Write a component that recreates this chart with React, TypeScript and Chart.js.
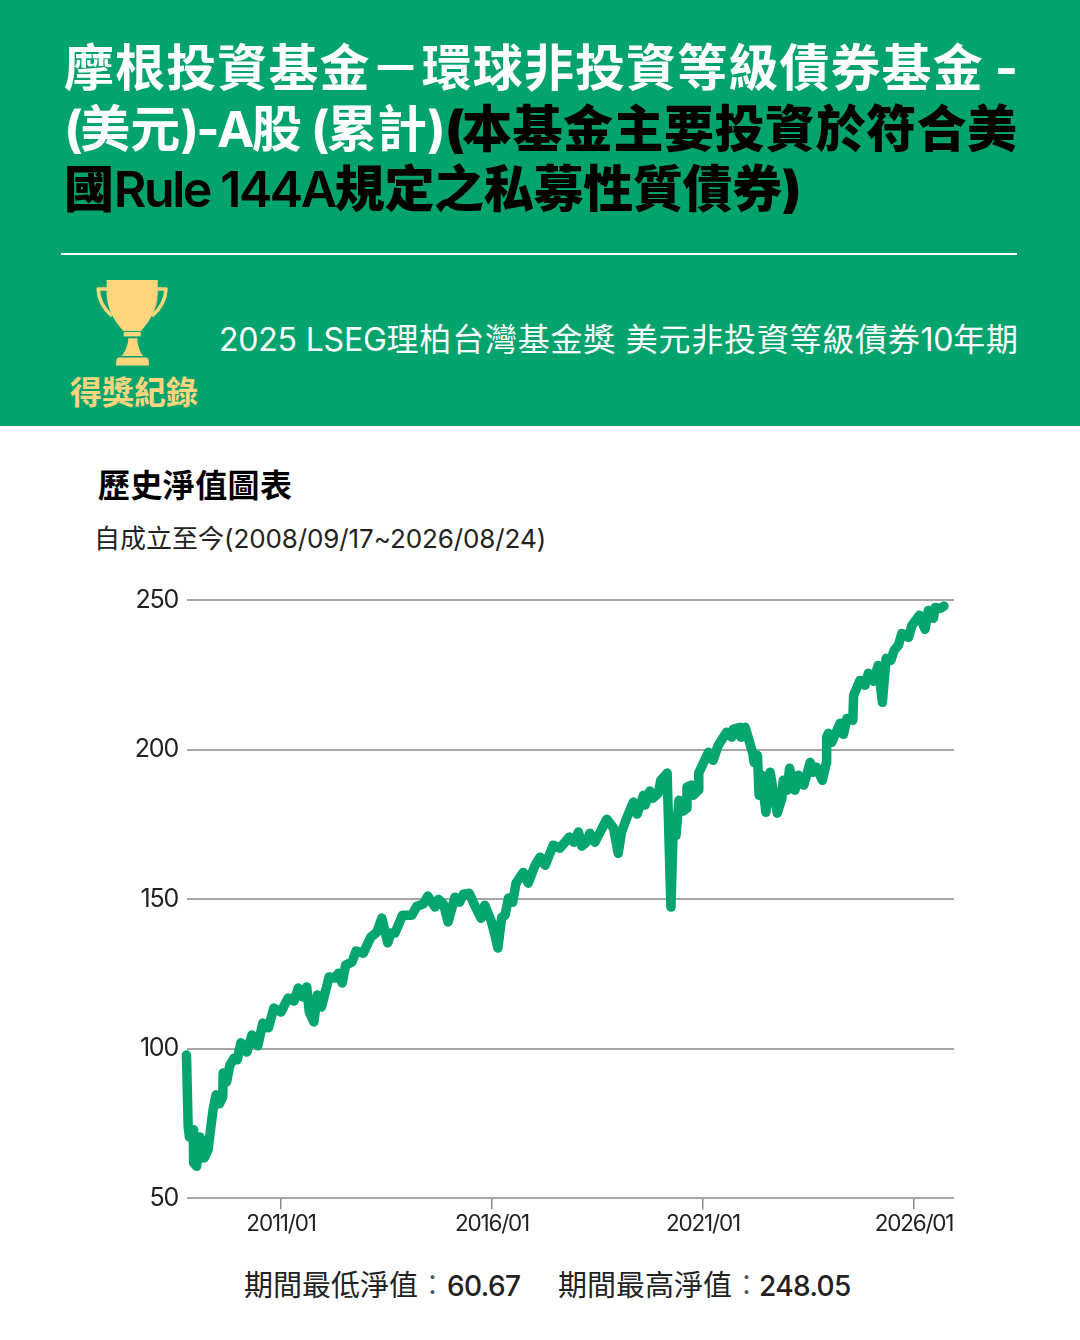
import React, { useEffect, useRef } from "react";
import { Chart, registerables } from "chart.js";

Chart.register(...registerables);

const years = [
  2008.76, 2008.80, 2008.83, 2008.92, 2008.93, 2009.00, 2009.08, 2009.18, 2009.27, 2009.39,
  2009.46, 2009.54, 2009.62, 2009.63, 2009.71, 2009.79, 2009.89, 2009.96, 2010.05, 2010.19,
  2010.31, 2010.45, 2010.57, 2010.70, 2010.83, 2011.00, 2011.17, 2011.31, 2011.41, 2011.52,
  2011.61, 2011.67, 2011.78, 2011.86, 2011.96, 2012.14, 2012.28, 2012.36, 2012.45, 2012.53,
  2012.68, 2012.78, 2012.95, 2013.13, 2013.27, 2013.39, 2013.53, 2013.60, 2013.70, 2013.88,
  2014.10, 2014.22, 2014.37, 2014.48, 2014.65, 2014.73, 2014.85, 2014.96, 2015.12, 2015.23,
  2015.32, 2015.46, 2015.60, 2015.74, 2015.83, 2015.99, 2016.07, 2016.14, 2016.23, 2016.31,
  2016.39, 2016.49, 2016.57, 2016.74, 2016.86, 2017.02, 2017.14, 2017.26, 2017.45, 2017.61,
  2017.83, 2017.94, 2018.05, 2018.13, 2018.24, 2018.32, 2018.44, 2018.72, 2018.88, 2018.99, 2019.07,
  2019.19, 2019.35, 2019.44, 2019.59, 2019.63, 2019.74, 2019.81, 2019.94, 2020.00, 2020.15,
  2020.24, 2020.30, 2020.36, 2020.43, 2020.53, 2020.61, 2020.62, 2020.73, 2020.77, 2020.89,
  2020.90, 2021.13, 2021.24, 2021.36, 2021.56, 2021.68, 2021.72, 2021.88, 2021.90, 2022.00,
  2022.18, 2022.21, 2022.29, 2022.33, 2022.39, 2022.49, 2022.59, 2022.76, 2022.87, 2022.90,
  2023.00, 2023.05, 2023.18, 2023.26, 2023.39, 2023.54, 2023.61, 2023.69, 2023.83, 2023.92,
  2023.93, 2023.97, 2024.05, 2024.25, 2024.33, 2024.41, 2024.55, 2024.57, 2024.72, 2024.84,
  2024.92, 2025.04, 2025.15, 2025.25, 2025.34, 2025.45, 2025.53, 2025.63, 2025.71, 2025.87,
  2025.95, 2026.13, 2026.26, 2026.34, 2026.46, 2026.50, 2026.63, 2026.71,
];

const nav = [
  97.9, 73.9, 70.5, 72.9, 61.9, 60.67, 70.5, 63.5, 66.2, 79.6,
  84.6, 81.6, 83.9, 91.9, 88.9, 94.6, 96.9, 96.3, 102, 98.9,
  104.6, 101, 108.6, 107, 113.6, 112.3, 117, 116, 120.3, 117.3,
  120.7, 112.3, 109, 118, 114, 124, 123.7, 125.3, 122, 128,
  129, 132.7, 132, 137.4, 139, 143.7, 135.4, 138.7, 138.7, 144.7,
  144.7, 147.7, 148.4, 151.1, 147.4, 150, 148.4, 142.4, 150.7, 149,
  151.7, 152, 147.7, 143.7, 148, 142.4, 138, 133.7, 144, 144.7,
  150.4, 149, 155.4, 159, 155.4, 161.4, 164.1, 161.4, 168.1, 167.1,
  170.8, 169.1, 172.5, 167.8, 169.1, 172.1, 169.1, 176.8, 173.8, 165.4, 172.5,
  177.1, 182.5, 178.5, 184.8, 181.5, 186.2, 183.8, 185.5, 189.8, 192.2,
  147.4, 176.5, 171.4, 183.1, 179.5, 180.5, 187.5, 188.2, 184.8, 186.5,
  192.2, 199.2, 196.5, 201.5, 205.9, 204.2, 206.9, 207.5, 204.2, 207.5,
  198.8, 195.8, 198.2, 184.8, 191.5, 179.1, 192.5, 178.8, 183.8, 189.8,
  186.5, 193.8, 186.5, 191.5, 188.2, 195.8, 192.5, 194.2, 189.8, 195.5,
  204.2, 205.5, 202.5, 208.9, 205.2, 210.5, 209.9, 218.2, 223.2, 221.6,
  225.6, 222.9, 228.2, 215.9, 230.6, 229.9, 233.3, 234.9, 238.9, 237.6,
  241.6, 245, 240.3, 246.6, 244, 247.6, 247.3, 248.05,
];

const yTicks = [50, 100, 150, 200, 250];
const xTicks = [2011, 2016, 2021, 2026];
const xTickLabels = ["2011/01", "2016/01", "2021/01", "2026/01"];

const GREEN = "#03A36E";
const LINE = "#05A56E";
const GOLD = "#FFD67E";
const SANS = '"Inter", "Noto Sans CJK TC", sans-serif';

const abs = (left: number, top: number, extra: React.CSSProperties = {}): React.CSSProperties => ({
  position: "absolute",
  left,
  top,
  whiteSpace: "nowrap",
  fontFamily: SANS,
  ...extra,
});

const Tight = ({ s, children }: { s: number; children: React.ReactNode }) => (
  <span style={{ letterSpacing: s }}>{children}</span>
);

export default function App() {
  const ref = useRef<HTMLCanvasElement>(null);

  useEffect(() => {
    const chart = new Chart(ref.current!, {
      type: "line",
      data: {
        datasets: [
          {
            data: years.map((x, i) => ({ x, y: nav[i] })),
            borderColor: LINE,
            borderWidth: 9.5,
            pointRadius: 0,
            borderJoinStyle: "round",
            borderCapStyle: "round",
            tension: 0,
            clip: false,
          },
        ],
      },
      options: {
        responsive: false,
        animation: false,
        layout: { padding: { left: 0, right: 126, top: 30.3, bottom: 0 } },
        plugins: { legend: { display: false }, title: { display: false }, tooltip: { enabled: false } },
        scales: {
          x: {
            type: "linear",
            min: 2008.7725,
            max: 2026.948,
            afterBuildTicks: (s: any) => {
              s.ticks = xTicks.map((value) => ({ value }));
            },
            afterFit: (s: any) => {
              s.height = 61.7;
            },
            grid: { drawOnChartArea: false, drawTicks: true, tickLength: 11, color: "#8a8a8a", lineWidth: 1.5 },
            border: { display: false },
            ticks: {
              autoSkip: false,
              maxRotation: 0,
              padding: 1,
              color: "#222222",
              font: { family: "Inter", size: 22.5 },
              callback: (v: any) => xTickLabels[xTicks.indexOf(v)],
            },
          },
          y: {
            min: 50,
            max: 250,
            afterBuildTicks: (s: any) => {
              s.ticks = yTicks.map((value) => ({ value }));
            },
            afterFit: (s: any) => {
              s.width = 187;
            },
            grid: { drawTicks: false, color: "#a6a6a6", lineWidth: 2 },
            border: { display: false },
            ticks: {
              padding: 9,
              color: "#222222",
              font: { family: "Inter", size: 25 },
            },
          },
        },
      },
      plugins: [
        {
          id: "spacing",
          beforeDraw: (c: any) => {
            c.ctx.letterSpacing = "-1.2px";
          },
        },
      ],
    } as any);
    return () => chart.destroy();
  }, []);

  return (
    <div style={{ position: "absolute", left: 0, top: 0, width: 1080, height: 1340, background: "#fff", overflow: "hidden" }}>
      <div style={{ position: "absolute", left: 0, top: 0, width: 1080, height: 426, background: GREEN }} />

      <div style={abs(64, 38, { fontSize: 50, lineHeight: "61px", fontWeight: 700, color: "#fff", letterSpacing: 1.1 })}>
        摩根投資基金－環球非投資等級債券基金<Tight s={-1}> -</Tight>
      </div>
      <div style={abs(64, 99, { fontSize: 50, lineHeight: "61px", fontWeight: 700, color: "#fff" })}>
        <Tight s={-2.7}>(</Tight>美元<Tight s={-2.7}>)-A</Tight>股<Tight s={-2.7}> (</Tight>累計<Tight s={-0.5}>)</Tight>
        <span style={{ color: "#000", fontWeight: 900, letterSpacing: 0.5 }}>
          <Tight s={-2.7}>(</Tight>本基金主要投資於符合美
        </span>
      </div>
      <div style={abs(64, 159, { fontSize: 50, lineHeight: "61px", fontWeight: 900, color: "#000", letterSpacing: -0.3 })}>
        國<span style={{ fontWeight: 600, letterSpacing: -2.4 }}>Rule 144A</span>規定之私募性質債券<Tight s={-2.7}>)</Tight>
      </div>

      <div style={{ position: "absolute", left: 61, top: 253, width: 956, height: 2, background: "#fff" }} />

      <svg style={{ position: "absolute", left: 60, top: 270 }} width={160} height={150} viewBox="0 0 160 150">
        <path d="M46.7 10H97.7V24C97.7 38 90 51 81 61H63.3C54 51 46.7 38 46.7 24Z" fill={GOLD} />
        <path d="M47 19H38.2C38.6 31 45 40 52 46" stroke={GOLD} strokeWidth={3.6} fill="none" strokeLinejoin="round" />
        <path d="M97.5 19H106C105.6 31 99 40 92 46" stroke={GOLD} strokeWidth={3.6} fill="none" strokeLinejoin="round" />
        <rect x={63.7} y={62} width={17} height={4.4} fill={GOLD} />
        <path d="M68.3 68.3H77.3C77.3 75 80 82 83 86H61.7C65 82 68.3 75 68.3 68.3Z" fill={GOLD} />
        <path d="M59 87.5H86C88 87.5 89 90 89 95.5H56C56 90 57 87.5 59 87.5Z" fill={GOLD} />
      </svg>

      <div style={abs(70, 374, { fontSize: 32, lineHeight: "38px", fontWeight: 700, color: GOLD })}>得獎紀錄</div>
      <div style={abs(219, 320, { fontSize: 32, lineHeight: "40px", fontWeight: 400, color: "#fff", letterSpacing: 0.76 })}>
        <Tight s={-0.2}>2025 LSEG</Tight>理柏台灣基金獎 美元非投資等級債券<Tight s={-0.2}>10</Tight>年期
      </div>

      <div style={abs(98, 466, { fontSize: 32, lineHeight: "40px", fontWeight: 700, color: "#000", letterSpacing: 0.4 })}>歷史淨值圖表</div>
      <div style={abs(94, 521, { fontSize: 26, lineHeight: "36px", fontWeight: 400, color: "#222" })}>
        自成立至今<Tight s={-0.1}>(2008/09/17~2026/08/24)</Tight>
      </div>

      <canvas ref={ref} width={1080} height={690} style={{ position: "absolute", left: 0, top: 570, width: 1080, height: 690 }} />

      <div style={abs(244, 1267, { fontSize: 29, lineHeight: "38px", fontWeight: 400, color: "#222" })}>
        期間最低淨值<span style={{ fontWeight: 300, color: "#555" }}>：</span><span style={{ fontWeight: 500, fontSize: 28, letterSpacing: -0.6 }}>60.67</span>
      </div>
      <div style={abs(558, 1267, { fontSize: 29, lineHeight: "38px", fontWeight: 400, color: "#222" })}>
        期間最高淨值<span style={{ fontWeight: 300, color: "#555", marginRight: -2 }}>：</span><span style={{ fontWeight: 500, fontSize: 28, letterSpacing: -0.6 }}>248.05</span>
      </div>
    </div>
  );
}
